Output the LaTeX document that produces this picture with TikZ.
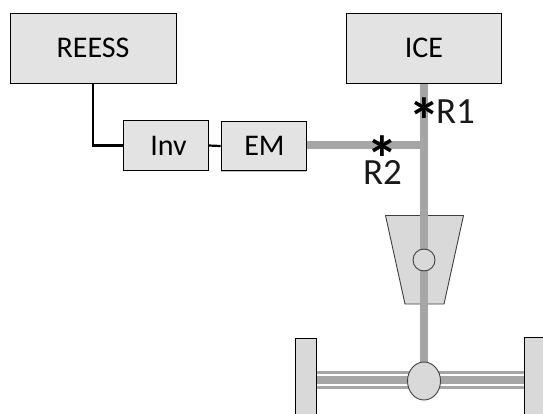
\documentclass[tikz,border=0pt]{standalone}
\usepackage{fontspec}
\setmainfont{Carlito}
\usetikzlibrary{backgrounds,shadows,shapes.geometric}
\tikzset{
  x=1pt,y=-1pt,
  boxbase/.style={draw=black,fill=boxfill,line width=0.9pt,inner sep=0pt,text=black,
    drop shadow={shadow xshift=0pt,shadow yshift=-1.2pt,fill=black!25,opacity=1}},
  bigbox/.style={boxbase,minimum height=70pt,font=\fontsize{30}{30}\selectfont},
  smallbox/.style={boxbase,minimum width=85pt,minimum height=49.5pt,font=\fontsize{30}{30}\selectfont},
  shaft/.style={draw=shaftgray,line width=7.5pt},
  thinshaft/.style={draw=shaftgray,line width=3pt},
  wire/.style={draw=black,line width=2.2pt},
  partfill/.style={draw=partline,fill=partgray,line width=0.9pt,inner sep=0pt},
  wheel/.style={draw=black,fill=partgray,line width=0.8pt,inner sep=0pt,minimum height=90pt},
  lab/.style={inner sep=0pt,font=\fontsize{37}{37}\selectfont,text=black!90},
  star/.style={inner sep=0pt,font=\bfseries\fontsize{64}{64}\selectfont,text=black,anchor=center},
}
\definecolor{boxfill}{HTML}{E3E3E3}
\definecolor{partgray}{HTML}{D9D9D9}
\definecolor{partline}{HTML}{404040}
\definecolor{shaftgray}{HTML}{A6A6A6}
\begin{document}
\begin{tikzpicture}
\useasboundingbox (0,0) rectangle (543,414);
\clip (0,0) rectangle (543,414);
\node[bigbox,minimum width=166pt] (reess) at (93,48) {\raisebox{-1.5pt}{REESS}};
\node[bigbox,minimum width=155pt] (ice) at (424,48) {\raisebox{-1.5pt}{ICE}};
\node[smallbox] (inv) at (165.5,145.5) {\hspace*{6pt}\raisebox{-1pt}{Inv}};
\node[smallbox] (em) at (263.5,146) {\hspace*{2pt}\raisebox{-1pt}{EM}};
\coordinate (junction) at (424,145);
\coordinate (emout) at (306,145);
\coordinate (tl) at (385.5,215.5);
\coordinate (tr) at (463.5,215.5);
\coordinate (br) at (444,304);
\coordinate (bl) at (405,304);
\node[partfill,circle,minimum size=22pt] (gear) at (424,260) {};
\node[partfill,ellipse,minimum width=33pt,minimum height=38pt] (diff) at (424,381) {};
\node[wheel,minimum width=21pt] (lw) at (305.5,383) {};
\node[wheel,minimum width=22pt] (rw) at (535,382) {};
\begin{scope}[on background layer]
  \draw[partfill] (tl) -- (tr) -- (br) -- (bl) -- cycle;
  \draw[shaft] (ice.south) -- (diff.north);
  \draw[shaft] (emout) -- (junction);
  \draw[shaft] (lw.east |- diff.center) ++(0,-1) coordinate (axm) -- (rw.west |- axm);
  \draw[thinshaft] (lw.east |- diff.center) ++(0,-8.5) coordinate (axt) -- (rw.west |- axt);
  \draw[thinshaft] (lw.east |- diff.center) ++(0,6) coordinate (axb) -- (rw.west |- axb);
\end{scope}
\draw[wire] (reess.south) |- (inv.west);
\draw[wire] (inv.east) -- (em.west);
\node[lab] (r1) at (455.5,112) {R1};
\node[lab] (r2) at (382.5,172) {R2};
\node[star] (s1) at (424,121) {*};
\node[star] (s2) at (382,159) {*};
\end{tikzpicture}
\end{document}
